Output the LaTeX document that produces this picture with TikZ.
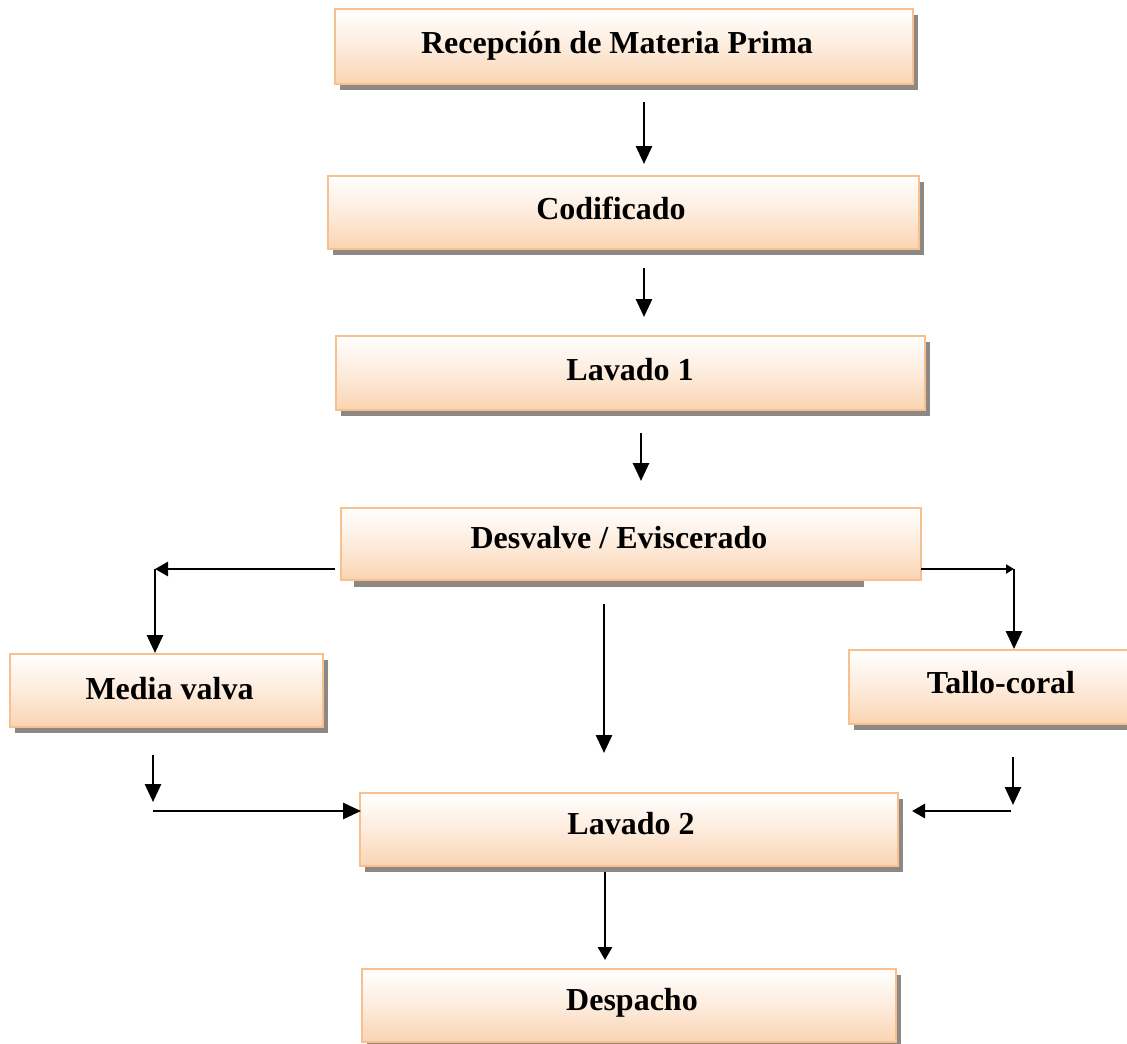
\documentclass[tikz,border=0pt]{standalone}
\usepackage{fontspec}
\setmainfont{Liberation Serif}
\usetikzlibrary{arrows.meta,shadows}
\definecolor{boxborder}{RGB}{249,192,143}
\definecolor{boxbottom}{RGB}{250,212,178}
\definecolor{shadowgray}{RGB}{141,136,132}
\tikzset{
  procbox/.style={draw=boxborder, line width=2.2pt, rectangle, inner sep=0pt,
    top color=white, bottom color=boxbottom, middle color={boxbottom!45!white}},
  boxshadow/.style={drop shadow={shadow xshift=4.5pt, shadow yshift=-5.5pt, fill=shadowgray, opacity=1}},
  lbl/.style={anchor=base, inner sep=0pt, font=\fontsize{32}{38}\selectfont\bfseries},
  arr/.style={line width=2.8pt, -{Triangle[length=18pt,width=16pt]}},
  arrm/.style={line width=2.8pt, -{Triangle[length=13pt,width=14pt]}},
  arrs/.style={line width=2.4pt, -{Triangle[length=8pt,width=9pt]}}
}
\begin{document}
\begin{tikzpicture}[x=1pt,y=-1pt]
\useasboundingbox (0,0) rectangle (1127,1044);
\clip (0,0) rectangle (1127,1044);
% boxes
\node[procbox, boxshadow, minimum width=578pt, minimum height=75pt] (b1) at (624,46.5) {};
\node[procbox, boxshadow, minimum width=591pt, minimum height=73pt] (b2) at (623.5,212.5) {};
\node[procbox, boxshadow, minimum width=589pt, minimum height=74pt] (b3) at (630.5,373) {};
\fill[shadowgray] (354,578) rectangle (864,587);
\node[procbox, minimum width=580pt, minimum height=72pt] (b4) at (631,544) {};
\node[procbox, boxshadow, minimum width=313pt, minimum height=73pt] (b5) at (166.5,690.5) {};
\node[procbox, boxshadow, minimum width=304pt, minimum height=74pt] (b6) at (1001,687) {};
\node[procbox, boxshadow, minimum width=538pt, minimum height=73pt] (b7) at (629,829.5) {};
\node[procbox, boxshadow, minimum width=534pt, minimum height=73pt] (b8) at (629,1005.5) {};
% labels
\node[lbl] (t1) at (617,53) {Recepción de Materia Prima};
\node[lbl] (t2) at (611,219) {Codificado};
\node[lbl] (t3) at (630,380) {Lavado 1};
\node[lbl] (t4) at (619,548) {Desvalve / Eviscerado};
\node[lbl] (t5) at (169.5,699) {Media valva};
\node[lbl] (t6) at (1001,693) {Tallo-coral};
\node[lbl] (t7) at (631,834) {Lavado 2};
\node[lbl] (t8) at (632,1010) {Despacho};
% connector end points
\coordinate (a1s) at (644,102); \coordinate (a1e) at (644,164);
\coordinate (a2s) at (644,268); \coordinate (a2e) at (644,317);
\coordinate (a3s) at (641,433); \coordinate (a3e) at (641,481);
\coordinate (dl) at (335,569);  \coordinate (dlc) at (155,569); \coordinate (dle) at (155,653);
\coordinate (dr) at (921,569);  \coordinate (drc) at (1014,569); \coordinate (dre) at (1014,649);
\coordinate (dcs) at (604,604); \coordinate (dce) at (604,753);
\coordinate (ms) at (153,755);  \coordinate (me) at (153,802);
\coordinate (mhs) at (153,811); \coordinate (mhe) at (361,811);
\coordinate (ts) at (1013,757); \coordinate (te) at (1013,805);
\coordinate (ths) at (1011,811); \coordinate (the) at (912,811);
\coordinate (ls) at (605,872);  \coordinate (le) at (605,960);
% connectors
\draw[arr] (a1s) -- (a1e);
\draw[arr] (a2s) -- (a2e);
\draw[arr] (a3s) -- (a3e);
\draw[arrm] (dl) -- (dlc);
\draw[arr] (dlc) -- (dle);
\draw[arrs] (dr) -- (drc);
\draw[arr] (drc) -- (dre);
\draw[arr] (dcs) -- (dce);
\draw[arr] (ms) -- (me);
\draw[arr] (mhs) -- (mhe);
\draw[arr] (ts) -- (te);
\draw[arrm] (ths) -- (the);
\draw[arrm] (ls) -- (le);
\end{tikzpicture}
\end{document}
